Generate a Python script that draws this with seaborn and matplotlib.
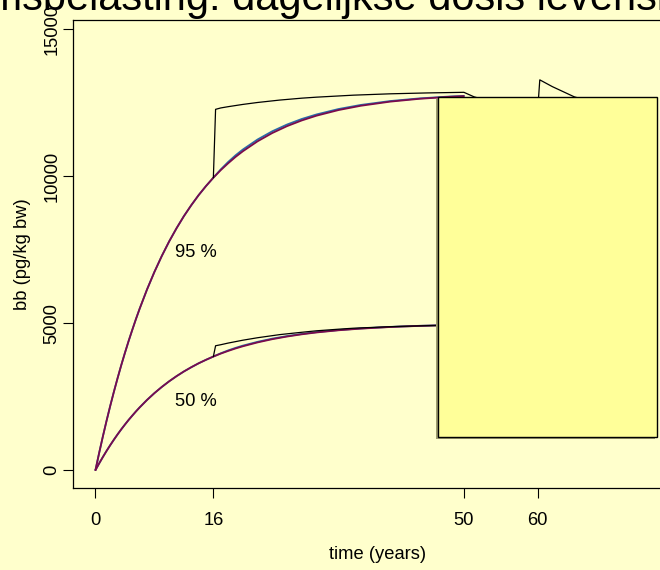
import numpy as np
import pandas as pd
import matplotlib
matplotlib.use("Agg")
import matplotlib.pyplot as plt
import matplotlib.transforms as mtransforms
from matplotlib.patches import Rectangle
import seaborn as sns

# ---------------- data ----------------
t_main = [0, 0.5, 1, 1.5, 2, 2.5, 3, 3.5, 4, 4.5, 5, 5.5, 6, 7, 8, 9, 10, 11, 12, 13, 14, 15,
          16, 17, 18, 19, 20, 22, 24, 26, 28, 30, 33, 36, 40, 44, 48, 50]
red95 = [0, 584, 1141, 1673, 2182, 2666, 3128, 3571, 3991, 4394, 4775, 5145, 5495, 6149,
         6744, 7286, 7781, 8230, 8642, 9014, 9357, 9666, 9951, 10207, 10439, 10655, 10849,
         11189, 11471, 11705, 11899, 12061, 12253, 12398, 12539, 12636, 12702, 12727]
blue95 = [0, 584, 1141, 1673, 2182, 2666, 3128, 3571, 3991, 4394, 4775, 5145, 5495, 6149,
          6744, 7286, 7781, 8230, 8642, 9014, 9357, 9666, 9951, 10232, 10484, 10710, 10909,
          11251, 11531, 11760, 11949, 12103, 12288, 12426, 12559, 12650, 12712, 12735]
red50 = [0, 227, 443, 650, 847, 1035, 1215, 1387, 1550, 1707, 1854, 1998, 2134, 2388,
         2619, 2829, 3021, 3196, 3356, 3500, 3634, 3753, 3864, 3964, 4054, 4138, 4213,
         4345, 4455, 4545, 4621, 4684, 4758, 4814, 4869, 4907, 4933, 4942]
blue50 = [0, 227, 443, 650, 847, 1035, 1215, 1387, 1550, 1707, 1854, 1998, 2134, 2388,
          2619, 2829, 3021, 3196, 3356, 3500, 3634, 3753, 3864, 3974, 4072, 4158, 4235,
          4365, 4473, 4560, 4633, 4694, 4766, 4820, 4873, 4910, 4935, 4944]

t_black95 = [16, 16.3, 17, 18, 20, 22, 25, 28, 30, 35, 40, 45, 50, 51.4, 55, 60, 60.3, 62,
             65, 70, 75]
black95 = [9951, 12277, 12324, 12367, 12444, 12510, 12592, 12657, 12691, 12759, 12805,
           12835, 12856, 12700, 12450, 12200, 13280, 13050, 12700, 12350, 12100]
t_black50 = [16, 16.3, 17, 18, 20, 22, 25, 28, 30, 33, 35, 40, 45, 50]
black50 = [3864, 4231, 4266, 4322, 4420, 4504, 4610, 4690, 4740, 4795, 4828, 4880, 4915, 4941]

x_ticks = [0, 16, 50, 60]
y_ticks = [0, 5000, 10000, 15000]
pct_labels = ["95 %", "50 %"]
pct_pos_t = [13.6, 13.6]
pct_pos_y = [7400, 2350]

title = "Lichaamsbelasting: dagelijkse dosis levenslang"
xlabel = "time (years)"
ylabel = "bb (pg/kg bw)"

# ---------------- style ----------------
BG = "#FFFFCC"
BOX = "#FFFF99"
RED = "#7A0B4C"
BLUE = "#2A6AA8"

sns.set_theme(style="white")
plt.rcParams["font.family"] = ["Liberation Sans", "DejaVu Sans"]

W, H = 660, 570
fig = plt.figure(figsize=(W / 100, H / 100), dpi=100, facecolor=BG)
left_px, right_px, top_px, bottom_px = 73, 682, 20, 488.3
ax = fig.add_axes([left_px / W, (H - bottom_px) / H, (right_px - left_px) / W,
                   (bottom_px - top_px) / H])
ax.set_facecolor(BG)

def df_of(t, v):
    return pd.DataFrame({"time": t, "bb": v})

for vals, col, lw in [(blue95, BLUE, 1.3), (blue50, BLUE, 1.3),
                      (red95, RED, 1.3), (red50, RED, 1.3)]:
    sns.lineplot(data=df_of(t_main, vals), x="time", y="bb", color=col, lw=lw,
                 estimator=None, sort=False, ax=ax)
sns.lineplot(data=df_of(t_black95, black95), x="time", y="bb", color="black", lw=0.9,
             estimator=None, sort=False, ax=ax)
sns.lineplot(data=df_of(t_black50, black50), x="time", y="bb", color="black", lw=0.9,
             estimator=None, sort=False, ax=ax)

for lab, tx, ty in zip(pct_labels, pct_pos_t, pct_pos_y):
    ax.text(tx, ty, lab, ha="center", va="center", fontsize=13.2, color="black")

ax.set_xlim(-3.05, 79.6)
ax.set_ylim(-620, 15317)
ax.set_xticks(x_ticks)
ax.set_xticklabels([str(v) for v in x_ticks])
ax.set_yticks(y_ticks)
ax.set_yticklabels([str(v) for v in y_ticks], rotation=90, va="center")

ax.tick_params(axis="both", direction="out", length=7, width=0.8, color="black",
               labelsize=13.2, labelcolor="black", bottom=True, left=True)
ax.tick_params(axis="x", pad=10)
ax.tick_params(axis="y", pad=2)
for s in ax.spines.values():
    s.set_color("black")
    s.set_linewidth(0.9)
    s.set_visible(True)

ax.set_xlabel(xlabel, fontsize=13.2, color="black")
ax.set_ylabel(ylabel, fontsize=13.2, color="black")
ax.xaxis.set_label_coords(0.5, (bottom_px - 546) / (bottom_px - top_px))
ax.yaxis.set_label_coords((31 - left_px) / (right_px - left_px), 0.5)

# empty legend-like box with shadow, placed in axes region
bx0 = (438 - left_px) / (right_px - left_px)
bx1 = (657 - left_px) / (right_px - left_px)
by0 = (bottom_px - 437) / (bottom_px - top_px)
by1 = (bottom_px - 97) / (bottom_px - top_px)
shadow_tr = mtransforms.offset_copy(ax.transAxes, fig=fig, x=-2, y=-2, units="dots")
ax.add_patch(Rectangle((bx0, by0), bx1 - bx0, by1 - by0, transform=shadow_tr,
                       facecolor="#9E9D6E", edgecolor="none", zorder=5, clip_on=False))
ax.add_patch(Rectangle((bx0, by0), bx1 - bx0, by1 - by0, transform=ax.transAxes,
                       facecolor=BOX, edgecolor="black", lw=1.0, zorder=6, clip_on=False))

fig.text(-135 / W, (H - 10) / H, title, ha="left", va="baseline", fontsize=30,
         color="black")

fig.savefig("out.png", dpi=100, facecolor=BG)
